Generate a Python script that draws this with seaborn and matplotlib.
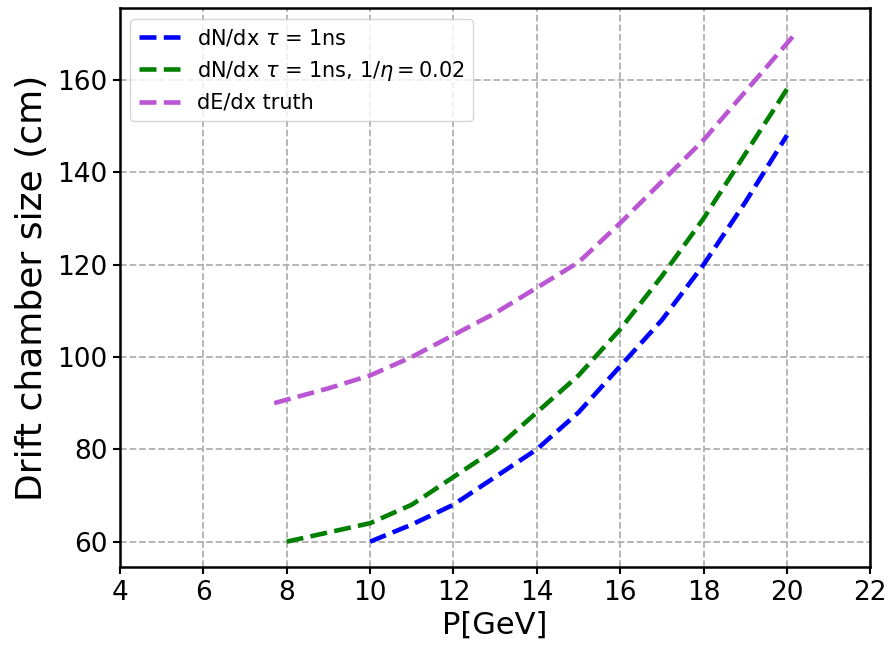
import matplotlib
matplotlib.use("Agg")
import matplotlib.pyplot as plt
import seaborn as sns
import pandas as pd

blue_x = [10, 11, 12, 13, 14, 15, 16, 17, 18, 19, 20]
blue_y = [60, 63.7, 68, 74, 80, 88, 98, 108, 120, 133.5, 148]

green_x = [8, 10, 11, 12, 13, 14, 15, 16, 17, 18, 19, 20]
green_y = [60, 64, 68, 74, 80, 88, 96, 106, 117.5, 130, 144, 158]

purple_x = [7.7, 9, 10, 11, 13, 15, 16, 18, 20.2]
purple_y = [90, 93.2, 96, 100, 109.5, 120.5, 129, 147, 170]

labels = [r"dN/dx $\tau$ = 1ns",
          r"dN/dx $\tau$ = 1ns, $1/\eta = 0.02$",
          "dE/dx truth"]
colors = ["#0000ff", "#008000", "#ba55d3"]

sns.set_theme(style="ticks")
plt.rcParams['font.family'] = ['DejaVu Sans']
plt.rcParams['text.color'] = 'black'
plt.rcParams['axes.labelcolor'] = 'black'
plt.rcParams['xtick.color'] = 'black'
plt.rcParams['ytick.color'] = 'black'

fig = plt.figure(figsize=(8.89, 6.47), dpi=100)
ax = fig.add_axes([0.135, 0.1236, 0.844, 0.8635])

for xs, ys, lab, col in zip([blue_x, green_x, purple_x], [blue_y, green_y, purple_y], labels, colors):
    df = pd.DataFrame({"x": xs, "y": ys})
    sns.lineplot(data=df, x="x", y="y", ax=ax, color=col, linestyle="--",
                 linewidth=3.3, label=lab, sort=False)

ax.set_xlim(4, 22)
ax.set_xticks(range(4, 23, 2))
ax.set_yticks(range(60, 161, 20))
ax.grid(True, linestyle="--", color="#b0b0b0", linewidth=1.3)
ax.set_axisbelow(True)
ax.set_xlabel("P[GeV]", fontsize=22, labelpad=4)
ax.set_ylabel("Drift chamber size (cm)", fontsize=26, labelpad=6)
ax.tick_params(axis="both", labelsize=19, length=5, width=1.5, pad=4, direction="out")
for sp in ax.spines.values():
    sp.set_linewidth(1.8)
    sp.set_color("black")
ax.legend(loc="upper left", fontsize=15, frameon=True)

fig.savefig("out.png", dpi=100)
